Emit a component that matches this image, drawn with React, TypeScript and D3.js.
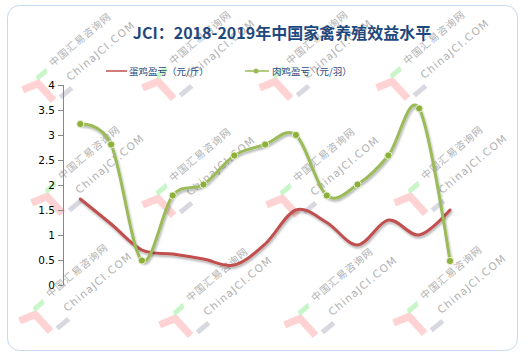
import React from "react";
import * as d3 from "d3";

const categories = ["1", "2", "3", "4", "5", "6", "7", "8", "9", "10", "11", "12", "13"];
const eggProfit = [1.72, 1.22, 0.7, 0.62, 0.52, 0.4, 0.82, 1.5, 1.25, 0.8, 1.3, 1.0, 1.5];
const broilerProfit = [3.22, 2.81, 0.49, 1.79, 2.01, 2.59, 2.81, 3.0, 1.79, 2.01, 2.59, 3.53, 0.48];
const yTicks = [0, 0.5, 1, 1.5, 2, 2.5, 3, 3.5, 4];
const seriesNames = ["蛋鸡盈亏（元/斤）", "肉鸡盈亏（元/羽）"];
const titleText = "JCI：2018-2019年中国家禽养殖效益水平";
const watermarkAnchors: [number, number][] = [
  [53, 67], [173, 65], [290, 65], [407, 65],
  [62, 180], [173, 182], [297, 182], [425, 180],
  [50, 298], [190, 302], [315, 302], [424, 300],
];

const W = 527;
const H = 361;
const RED = "#C0504D";
const GREEN = "#9BBB59";
const NAVY = "#1F497D";

function Watermark({ x, y }: { x: number; y: number }) {
  return (
    <g transform={`translate(${x},${y}) rotate(-40)`}>
      <path d="M-38,-2 L-22,3 L-21,26" fill="none" stroke="#ffc4c4" strokeWidth={7.5} strokeLinejoin="miter" opacity={0.75} />
      <path d="M-19,-4 L-6,-4 L-8,1 L-21,1 Z" fill="#c2f5c2" opacity={0.9} />
      <path d="M-14,28 L1,28" stroke="#d4d4de" strokeWidth={5} opacity={0.9} />
      <text x={0} y={0} fontSize={10} fill="#b0b0b0" fontFamily="'Noto Sans CJK SC', sans-serif" letterSpacing={1}>
        中国汇易咨询网
      </text>
      <text x={4} y={22} fontSize={10.5} fill="#b0b0b0" fontFamily="'DejaVu Sans', sans-serif" letterSpacing={1.2}>
        ChinaJCI.COM
      </text>
    </g>
  );
}

export default function App() {
  const x = d3.scalePoint<string>().domain(categories).range([80.3, 450]);
  const y = d3.scaleLinear().domain([0, 4]).range([285, 85]);
  const line = d3
    .line<number>()
    .x((_, i) => x(categories[i]) as number)
    .y((d) => y(d))
    .curve(d3.curveCardinal.tension(0));

  return (
    <div style={{ position: "absolute", left: 0, top: 0 }}>
      <svg width={W} height={H} style={{ display: "block", background: "#fff" }}>
        <defs>
          <filter id="shadow" x="-10%" y="-10%" width="120%" height="130%">
            <feDropShadow dx={1} dy={2} stdDeviation={1.2} floodColor="#000" floodOpacity={0.3} />
          </filter>
        </defs>
        <rect x={7.5} y={5.5} width={510} height={345} rx={12} ry={12} fill="#fff" stroke="#c6d9f0" strokeWidth={1} />

        {watermarkAnchors.map(([wx, wy], i) => (
          <Watermark key={i} x={wx} y={wy} />
        ))}

        <text
          x={282}
          y={39}
          textAnchor="middle"
          fontSize={16}
          fontWeight="bold"
          fill={NAVY}
          fontFamily="'Noto Sans CJK SC', sans-serif"
        >
          {titleText}
        </text>

        {/* legend */}
        <g fontFamily="'Noto Sans CJK SC', sans-serif" fontSize={9.5} fill={NAVY}>
          <line x1={106} x2={127} y1={71} y2={71} stroke={RED} strokeWidth={1.5} />
          <text x={129} y={74.5}>{seriesNames[0]}</text>
          <line x1={245} x2={269} y1={71} y2={71} stroke={GREEN} strokeWidth={1.5} />
          <circle cx={256} cy={71} r={2.5} fill={GREEN} />
          <text x={272} y={74.5}>{seriesNames[1]}</text>
        </g>

        {/* y axis */}
        <line x1={63.5} x2={63.5} y1={y(4)} y2={y(0)} stroke="#888" strokeWidth={1} />
        {yTicks.map((t) => (
          <g key={t}>
            <line x1={58} x2={63.5} y1={Math.round(y(t)) + 0.5} y2={Math.round(y(t)) + 0.5} stroke="#888" />
            <text
              x={55}
              y={y(t) + 4}
              textAnchor="end"
              fontSize={10.5}
              fill="#000"
              fontFamily="'DejaVu Sans', sans-serif"
            >
              {t}
            </text>
          </g>
        ))}

        {/* lines */}
        <path d={line(eggProfit) || ""} fill="none" stroke={RED} strokeWidth={3} filter="url(#shadow)" strokeLinecap="round" />
        <path d={line(broilerProfit) || ""} fill="none" stroke={GREEN} strokeWidth={3} filter="url(#shadow)" strokeLinecap="round" />
        {broilerProfit.map((v, i) => (
          <circle
            key={i}
            cx={x(categories[i]) as number}
            cy={y(v)}
            r={3.6}
            fill="#8db03a"
            stroke="#e8f0d8"
            strokeWidth={1}
          />
        ))}
      </svg>
    </div>
  );
}
